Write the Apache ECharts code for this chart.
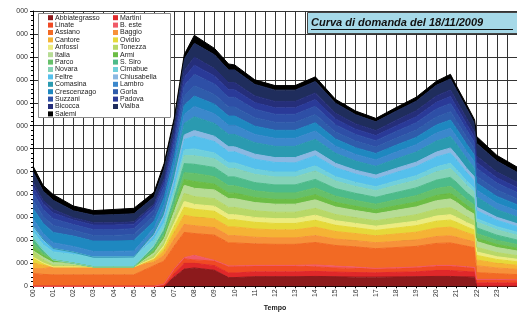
<!DOCTYPE html>
<html>
<head>
<meta charset="utf-8">
<script src="https://cdn.jsdelivr.net/npm/echarts@6/dist/echarts.min.js"></script>
<style>
  html, body { margin: 0; padding: 0; background: #fff; }
  #chart { width: 517px; height: 317px; }
</style>
</head>
<body>
<div id="chart"></div>
<script>
// ore del giorno (asse x)
var hours = [0, 0.5, 1, 2, 3, 4, 5, 6, 6.5, 7, 7.5, 8, 9, 9.7, 10, 11, 12, 13, 14, 15, 16, 17, 18, 19, 20, 20.7, 21, 21.5, 21.9, 22, 23, 24];

var names = ['Abbiategrasso', 'Martini', 'Linate', 'B. este', 'Assiano', 'Baggio', 'Cantore', 'Ovidio', 'Anfossi', 'Tonezza',
    'Italia', 'Armi', 'Parco', 'S. Siro', 'Novara', 'Cimabue', 'Feltre', 'Chiusabella', 'Comasina', 'Lambro',
    'Crescenzago', 'Gorla', 'Suzzani', 'Padova', 'Bicocca', 'Vialba', 'Salemi'];

var colors = ['#8c1a1c', '#e0282a', '#f04a24', '#f05a68', '#f26a24', '#f7923a', '#f5b335', '#e6d93a', '#ecec80', '#b8d867',
    '#b6dc95', '#6cbd45', '#66c06a', '#4dbb8a', '#86d3b8', '#70d0dc', '#55c0ec', '#8ab8e2', '#2a9ab0', '#3b88cc',
    '#1e88c0', '#2f5cab', '#2e4fa6', '#2a3a98', '#252e7a', '#1f2d5c', '#000000'];

var abbiategrasso = [0,0,0,0,0,0,0,0,0,400,750,800,700,380,380,420,420,420,430,420,400,400,410,420,430,430,420,410,400,0,0,0];
var martini = [0,0,0,0,0,0,0,0,0,150,250,200,200,200,200,210,210,210,220,200,200,190,200,210,260,260,250,230,220,150,150,140];
var linate = [0,0,0,0,0,0,0,0,100,200,200,150,200,280,280,250,250,250,200,180,180,170,180,190,200,200,200,190,180,150,150,140];
var bEste = [0,0,0,0,0,0,0,0,0,0,50,200,30,30,30,30,30,30,80,80,60,20,20,20,20,20,20,20,20,0,0,0];
var assiano = [560,520,500,500,500,500,500,900,1000,1000,1100,950,1100,1000,1000,940,920,920,980,900,880,860,880,900,960,980,950,900,860,300,250,230];
var baggio = [210,250,350,350,350,350,350,150,250,300,350,340,330,320,320,290,280,280,300,280,270,260,270,280,300,310,300,270,250,300,250,230];
var cantore = [250,150,0,0,0,0,0,100,200,300,400,380,380,380,380,360,350,350,370,330,310,300,320,340,370,380,360,320,290,250,200,180];
var ovidio = [250,100,0,0,0,0,0,80,150,250,350,340,330,310,310,290,280,280,300,270,250,240,260,280,300,310,290,250,230,200,170,150];
var anfossi = [0,0,0,0,0,0,0,0,80,150,250,210,220,220,220,210,210,210,220,200,190,180,190,200,220,230,220,190,170,150,120,110];
var tonezza = [280,150,80,60,0,0,0,120,150,250,350,340,330,320,320,290,280,280,300,270,250,240,260,280,300,310,290,250,230,200,180,160];
var italia = [0,100,100,100,0,0,0,100,150,250,350,360,380,380,380,360,350,350,370,330,310,300,320,340,370,380,360,310,280,250,220,200];
var armi = [150,80,120,0,0,0,0,80,100,150,250,300,250,240,240,220,210,210,220,200,190,180,200,210,230,240,220,190,170,150,140,120];
var parco = [200,100,0,0,0,0,0,80,120,200,300,350,330,320,320,290,280,280,300,270,250,240,260,280,300,310,290,250,230,200,180,160];
var sSiro = [210,120,0,0,0,0,0,100,150,250,400,400,400,390,390,360,350,350,370,330,310,300,320,340,370,390,360,310,280,250,220,200];
var novara = [0,0,0,0,0,0,0,80,120,200,350,370,380,370,370,360,350,350,370,330,300,290,310,330,360,380,350,310,280,250,230,210];
var cimabue = [280,250,350,380,420,420,430,250,200,200,250,300,250,240,240,220,210,210,220,190,180,170,190,200,220,230,210,190,170,150,140,130];
var feltre = [150,150,150,100,0,0,0,150,250,300,450,550,500,480,480,440,420,400,440,390,360,340,370,400,430,450,420,370,330,350,280,250];
var chiusabella = [100,80,0,0,0,0,0,50,80,120,200,250,230,220,220,220,210,230,220,190,170,170,180,190,210,220,210,190,170,150,130,120];
var comasina = [0,0,0,0,0,0,0,100,200,350,500,600,560,540,540,500,490,490,500,440,400,380,410,440,480,500,470,430,380,450,330,300];
var lambro = [300,250,250,250,250,250,260,200,250,300,400,450,420,400,400,360,350,350,360,310,290,280,300,320,350,360,340,310,280,300,280,260];
var crescenzago = [450,450,450,450,450,450,460,300,300,300,400,450,420,400,400,360,350,350,360,310,290,280,300,320,350,360,340,310,280,300,300,270];
var gorla = [350,300,300,250,250,250,260,250,250,300,400,450,420,400,400,370,350,350,360,310,290,280,300,320,350,360,340,310,280,300,280,260];
var suzzani = [350,300,300,250,250,250,250,250,250,300,450,500,460,420,420,370,350,350,360,310,290,280,300,320,350,360,340,310,280,350,300,270];
var padova = [250,250,250,200,200,200,200,150,200,250,350,400,350,330,330,290,280,280,290,250,230,220,240,260,290,300,280,260,230,250,230,220];
var bicocca = [200,150,150,100,100,100,100,100,150,250,300,350,320,310,310,290,280,280,290,250,230,220,240,260,280,290,270,250,220,280,250,230];
var vialba = [450,400,400,300,330,350,350,300,400,350,500,600,600,550,550,500,490,490,500,440,400,380,400,420,460,480,450,420,380,550,480,430];
var salemi = [250,250,250,210,200,230,240,210,250,250,200,350,280,260,220,200,200,200,200,170,160,150,160,170,180,200,180,170,160,300,250,230];

var values = [abbiategrasso, martini, linate, bEste, assiano, baggio, cantore, ovidio, anfossi, tonezza,
    italia, armi, parco, sSiro, novara, cimabue, feltre, chiusabella, comasina, lambro,
    crescenzago, gorla, suzzani, padova, bicocca, vialba, salemi];

var HOUR = 3600 * 1000;
var series = [];
for (var i = 0; i < names.length; i++) {
    var pts = [];
    for (var j = 0; j < hours.length; j++) {
        // asse tempo nascosto: cosi' lo stack avviene sulle y
        pts.push([hours[j] * HOUR, values[i][j]]);
    }
    series.push({
        name: names[i],
        type: 'line',
        xAxisIndex: 0,
        stack: 'totale',
        symbol: 'none',
        lineStyle: {width: 1, color: colors[i]},
        areaStyle: {color: colors[i], opacity: 1},
        itemStyle: {color: colors[i]},
        data: pts
    });
}

var leftCol = [], rightCol = [];
for (var k = 0; k < names.length; k++) {
    if (k % 2 === 0) leftCol.push(names[k]); else rightCol.push(names[k]);
}

var font = 'Liberation Sans, Arial, sans-serif';
var legendBase = {
    orient: 'vertical',
    top: 14,
    padding: 0,
    itemGap: 0,
    itemWidth: 5,
    itemHeight: 5,
    icon: 'rect',
    z: 8,
    textStyle: {fontSize: 7, lineHeight: 7.4, color: '#222', fontFamily: font, padding: [0, 0, 0, -3]}
};

var chart = echarts.init(document.getElementById('chart'));
chart.setOption({
    animation: false,
    color: colors,
    grid: {left: 33, right: -1, top: 11, bottom: 22, containLabel: false},
    legend: [
        Object.assign({}, legendBase, {left: 48, data: leftCol}),
        Object.assign({}, legendBase, {left: 113, data: rightCol})
    ],
    xAxis: [
        {
            type: 'time',
            show: false,
            min: 0,
            max: 24 * HOUR
        },
        {
            type: 'value',
            position: 'bottom',
            min: 0,
            max: 24,
            interval: 1,
            name: 'Tempo',
            nameLocation: 'middle',
            nameGap: 15,
            nameTextStyle: {fontSize: 7, fontWeight: 'bold', color: '#222', fontFamily: font},
            axisLine: {lineStyle: {color: '#000'}},
            axisTick: {length: 2, lineStyle: {color: '#000'}},
            minorTick: {show: true, splitNumber: 2, length: 2, lineStyle: {color: '#000'}},
            axisLabel: {
                rotate: 90,
                fontSize: 7,
                margin: 3,
                color: '#333',
                fontFamily: font,
                showMaxLabel: false,
                formatter: function (v) { return (v < 10 ? '0' : '') + v; }
            },
            splitLine: {show: true, lineStyle: {color: '#333', width: 1}},
            minorSplitLine: {show: true, lineStyle: {color: '#333', width: 1}}
        }
    ],
    yAxis: {
        type: 'value',
        min: 0,
        max: 12000,
        interval: 1000,
        axisLine: {show: true, lineStyle: {color: '#000'}},
        axisTick: {show: true, length: 3, lineStyle: {color: '#000'}},
        minorTick: {show: true, splitNumber: 5, length: 2, lineStyle: {color: '#000'}},
        axisLabel: {
            fontSize: 7,
            margin: 5,
            color: '#333',
            fontFamily: font,
            formatter: function (v) { return String(v).slice(-3); }
        },
        splitLine: {show: true, lineStyle: {color: '#333', width: 1}}
    },
    graphic: [
        {
            type: 'rect', z: 6,
            shape: {x: 38.5, y: 13.5, width: 132, height: 104},
            style: {fill: '#fff', stroke: '#888', lineWidth: 1}
        },
        {
            type: 'rect', z: 10,
            shape: {x: 307.5, y: 12.5, width: 212, height: 21},
            style: {fill: '#a6d9e8', stroke: '#444', lineWidth: 1}
        },
        {
            type: 'text', z: 11,
            x: 311, y: 23,
            style: {
                text: 'Curva di domanda del 18/11/2009',
                fill: '#111',
                font: 'italic bold 11px Liberation Sans, Arial, sans-serif',
                verticalAlign: 'middle'
            }
        },
        {
            type: 'line', z: 11,
            shape: {x1: 311, y1: 29.5, x2: 513, y2: 29.5},
            style: {stroke: '#111', lineWidth: 1}
        }
    ],
    series: series
});
</script>
</body>
</html>
